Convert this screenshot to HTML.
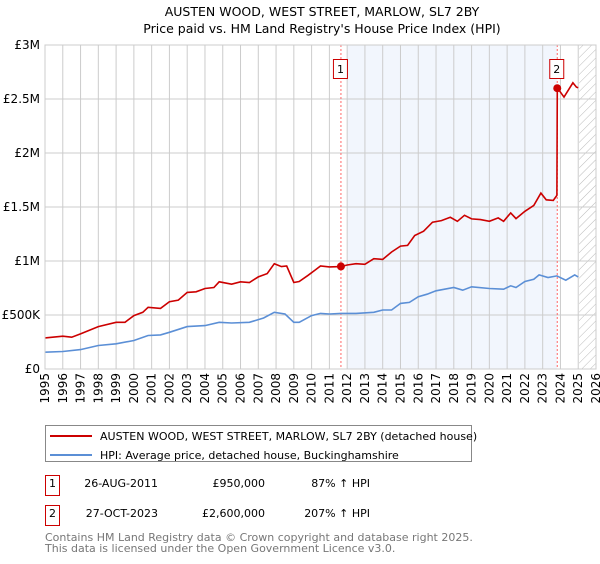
<!DOCTYPE html>
<html><head><meta charset="utf-8"><style>
body{margin:0;background:#fff;font-family:"DejaVu Sans","Liberation Sans",sans-serif;}
svg text{font-family:"DejaVu Sans","Liberation Sans",sans-serif;}
</style></head><body>
<svg id="chart" width="600" height="560" xmlns="http://www.w3.org/2000/svg">
<defs><pattern id="hatch" width="6" height="6" patternUnits="userSpaceOnUse" patternTransform="rotate(45)"><line x1="0" y1="0" x2="0" y2="6" stroke="#bbb" stroke-width="1"/></pattern></defs>
<text x="322" y="16" text-anchor="middle" font-size="12.5">AUSTEN WOOD, WEST STREET, MARLOW, SL7 2BY</text>
<text x="322" y="33" text-anchor="middle" font-size="12.5">Price paid vs. HM Land Registry's House Price Index (HPI)</text>
<g id="plot"></g>
<g>
<rect x="45.5" y="425.5" width="426" height="36" fill="#fff" stroke="#888"/>
<line x1="50" y1="436" x2="92" y2="436" stroke="#cc0000" stroke-width="2"/>
<text x="100" y="440" font-size="11">AUSTEN WOOD, WEST STREET, MARLOW, SL7 2BY (detached house)</text>
<line x1="50" y1="455" x2="92" y2="455" stroke="#5b8fd6" stroke-width="2"/>
<text x="100" y="459" font-size="11">HPI: Average price, detached house, Buckinghamshire</text>
</g>
<g font-size="11">
<rect x="45.5" y="475.5" width="14" height="20" fill="#fff" stroke="#cc0000"/>
<text x="52.5" y="487" text-anchor="middle">1</text>
<text x="158" y="487" text-anchor="end">26-AUG-2011</text>
<text x="265" y="487" text-anchor="end">£950,000</text>
<text x="370" y="487" text-anchor="end">87% ↑ HPI</text>
</g>
<g font-size="11">
<rect x="45.5" y="505.5" width="14" height="20" fill="#fff" stroke="#cc0000"/>
<text x="52.5" y="517" text-anchor="middle">2</text>
<text x="158" y="517" text-anchor="end">27-OCT-2023</text>
<text x="265" y="517" text-anchor="end">£2,600,000</text>
<text x="370" y="517" text-anchor="end">207% ↑ HPI</text>
</g>
<text x="45" y="541" font-size="11" fill="#777">Contains HM Land Registry data © Crown copyright and database right 2025.</text>
<text x="45" y="552" font-size="11" fill="#777">This data is licensed under the Open Government Licence v3.0.</text>
</svg>
<script>
const yearTicks=[1995,1996,1997,1998,1999,2000,2001,2002,2003,2004,2005,2006,2007,2008,2009,2010,2011,2012,2013,2014,2015,2016,2017,2018,2019,2020,2021,2022,2023,2024,2025,2026];
const valueTicks=[0,500,1000,1500,2000,2500,3000];
const valueTickLabels=["£0","£500K","£1M","£1.5M","£2M","£2.5M","£3M"];
const hpiTimes=[1995,1996,1997,1998,1999,2000,2000.8,2001.5,2002,2003,2004,2004.8,2005.5,2006.5,2007.3,2007.9,2008.5,2009.0,2009.3,2010,2010.5,2011,2011.65,2012.5,2013.5,2014,2014.5,2015,2015.5,2016,2016.5,2017,2018,2018.5,2019,2020,2020.8,2021.2,2021.5,2022,2022.5,2022.8,2023.3,2023.8,2024.3,2024.8,2025.0];
const hpiValues=[156,162,180,218,233,264,310,316,340,393,402,432,426,432,472,525,509,432,432,494,515,509,515,515,525,546,546,607,617,669,693,724,755,730,761,745,739,770,755,810,831,871,847,862,822,871,853];
const priceTimes=[1995,1996,1996.5,1997,1998,1999,1999.5,2000,2000.5,2000.8,2001.5,2002,2002.5,2003,2003.5,2004,2004.5,2004.8,2005.5,2006,2006.5,2007,2007.5,2007.9,2008.3,2008.6,2009.0,2009.3,2009.8,2010.2,2010.5,2011,2011.65,2012,2012.5,2013,2013.5,2014,2014.5,2015,2015.4,2015.8,2016.3,2016.8,2017.3,2017.8,2018.2,2018.6,2019,2019.5,2020,2020.5,2020.8,2021.2,2021.5,2022,2022.5,2022.9,2023.2,2023.6,2023.8,2023.82,2024.2,2024.7,2024.9,2025.0];
const priceValues=[288,304,294,325,393,432,432,494,525,571,561,623,638,709,715,745,755,807,785,807,801,853,883,975,948,954,801,810,868,917,954,945,948,963,975,969,1021,1015,1083,1138,1144,1236,1276,1359,1374,1405,1368,1423,1390,1383,1368,1399,1368,1445,1393,1460,1515,1629,1567,1561,1607,2604,2518,2650,2610,2604];
const saleTimes=[2011.65,2023.82];
const saleValues=[950,2600];
const saleLabels=["1","2"];
const X0=45,X1=596,Y0=369,Y1=45;
const xs=t=>X0+(t-1995)/(2026-1995)*(X1-X0);
const ys=v=>Y0-v/3000*(Y0-Y1);
const NS="http://www.w3.org/2000/svg";
const g=document.getElementById('plot');
function mk(tag,attrs,parent){const e=document.createElementNS(NS,tag);for(const k in attrs)e.setAttribute(k,attrs[k]);(parent||g).appendChild(e);return e;}
const sh=mk('rect',{x:xs(2012),y:Y1,width:xs(saleTimes[1])-xs(2012),height:Y0-Y1,fill:'#eef3fc',opacity:0.75});


const ht=mk('rect',{x:xs(2025.05),y:Y1,width:X1-xs(2025.05),height:Y0-Y1,fill:'url(#hatch)'});


yearTicks.forEach(y=>{const l=mk('line',{x1:xs(y),x2:xs(y),y1:Y1,y2:Y0,stroke:'#ccc','stroke-width':1});


const t=mk('text',{x:0,y:0,'font-size':12,'text-anchor':'end',transform:`translate(${xs(y)+4},${Y0+4}) rotate(-90)`});


t.textContent=y;});
valueTicks.forEach((v,i)=>{const l=mk('line',{x1:X0,x2:X1,y1:ys(v),y2:ys(v),stroke:'#ccc','stroke-width':1});


const t=mk('text',{x:X0-5,y:ys(v)+4,'font-size':12,'text-anchor':'end'});


t.textContent=valueTickLabels[i];});
saleTimes.forEach((s,i)=>{const l=mk('line',{x1:xs(s),x2:xs(s),y1:Y1,y2:Y0,stroke:'#ff6666','stroke-width':1,'stroke-dasharray':'2,2'});

});
function path(ts,vs,col,name){const d=ts.map((t,i)=>(i?'L':'M')+xs(t).toFixed(1)+','+ys(vs[i]).toFixed(1)).join('');
const p=mk('path',{d:d,fill:'none',stroke:col,'stroke-width':1.6});

}
path(hpiTimes,hpiValues,'#5b8fd6','hpi-line');
path(priceTimes,priceValues,'#cc0000','price-line');
saleTimes.forEach((s,i)=>{const c=mk('circle',{cx:xs(s),cy:ys(saleValues[i]),r:4,fill:'#cc0000'});


const bx=xs(s)-7,by=Y1+14;
const r=mk('rect',{x:bx-0.5,y:by+0.5,width:14,height:19,fill:'#fff',stroke:'#cc0000'});


const t=mk('text',{x:xs(s)-0.5,y:by+14,'font-size':11,'text-anchor':'middle'});


t.textContent=saleLabels[i];});
const fr=mk('rect',{x:X0,y:Y1,width:X1-X0,height:Y0-Y1,fill:'none',stroke:'#ccc'});


</script>
</body></html>
